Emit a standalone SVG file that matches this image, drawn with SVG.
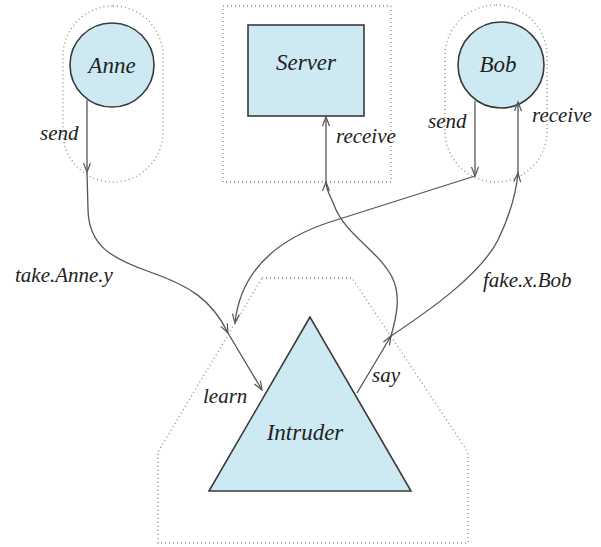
<svg xmlns="http://www.w3.org/2000/svg" width="601" height="547" viewBox="0 0 601 547">
<style>
.node{fill:#cdeaf2;stroke:#3a3a3a;stroke-width:1.6}
.encl{fill:none;stroke:#8a8a8a;stroke-width:1.3;stroke-dasharray:1 3}
.conn path{fill:none;stroke:#555;stroke-width:1.3}
.nl{font-family:"Liberation Serif","DejaVu Serif",serif;font-style:italic;font-size:23px;fill:#222;text-anchor:middle}
.el{font-family:"Liberation Serif","DejaVu Serif",serif;font-style:italic;font-size:21px;fill:#222}
</style>
<defs>
<marker id="arr" markerUnits="userSpaceOnUse" markerWidth="12" markerHeight="10" refX="10" refY="4" orient="auto">
<path d="M1,0.5 L10,4 L1,7.5" fill="none" stroke="#555" stroke-width="1.2"/>
</marker>
</defs>
<g id="enclosures">
<rect class="encl" x="63" y="6" width="100" height="176" rx="50"/>
<rect class="encl" x="223" y="6" width="168" height="176"/>
<rect class="encl" x="445" y="5" width="102" height="177" rx="51"/>
<polygon class="encl" points="262,278 352,278 468,452 468,543 158,543 158,452"/>
</g>
<g id="anne">
<circle class="node" cx="112" cy="65" r="42"/>
<text class="nl" x="112" y="73" font-size="25">Anne</text>
</g>
<g id="server">
<rect class="node" x="248" y="25" width="116" height="91"/>
<text class="nl" x="306" y="70">Server</text>
</g>
<g id="bob">
<circle class="node" cx="501" cy="65" r="43"/>
<text class="nl" x="498" y="72" font-size="24">Bob</text>
</g>
<g id="intruder">
<polygon class="node" points="310,317 209,491 411,491"/>
<text class="nl" x="305" y="440">Intruder</text>
</g>
<g id="connectors" class="conn">
<path d="M87,100 L87,172" marker-end="url(#arr)"/>
<path d="M87,172 L88,210 C89,245 110,258 150,272 C190,286 212,300 228,333" marker-end="url(#arr)"/>
<path d="M228,333 L262,390" marker-end="url(#arr)"/>
<path d="M475,101 L475,176" marker-end="url(#arr)"/>
<path d="M475,176 L330,222 C272,241 240,275 235,323" marker-end="url(#arr)"/>
<path d="M357,393 L391,336" marker-end="url(#arr)"/>
<path d="M391,336 C397,315 401,295 392,277 C378,250 345,235 334,205 C330,195 326,190 326,182" marker-end="url(#arr)"/>
<path d="M326,182 L326,117" marker-end="url(#arr)"/>
<path d="M391,336 C430,310 480,275 498,240 C510,215 516,195 518,173" marker-end="url(#arr)"/>
<path d="M518,173 L518,102" marker-end="url(#arr)"/>
</g>
<g id="labels">
<text class="el" x="40" y="140">send</text>
<text class="el" x="336" y="143">receive</text>
<text class="el" x="428" y="128">send</text>
<text class="el" x="532" y="122">receive</text>
<text class="el" x="15" y="282">take.Anne.y</text>
<text class="el" x="483" y="287">fake.x.Bob</text>
<text class="el" x="203" y="403">learn</text>
<text class="el" x="372" y="382">say</text>
</g>
</svg>
